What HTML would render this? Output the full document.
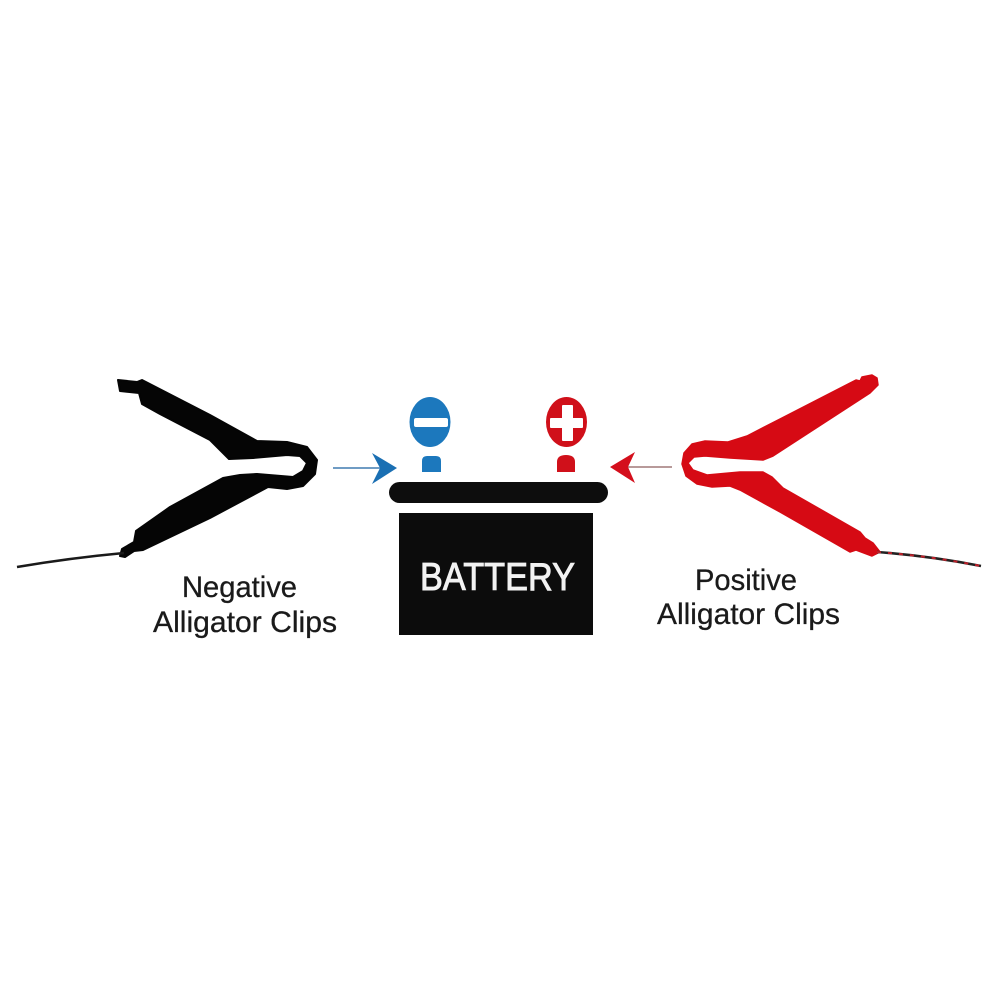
<!DOCTYPE html>
<html>
<head>
<meta charset="utf-8">
<style>
html,body{margin:0;padding:0;background:#ffffff;}
svg{display:block;}
</style>
</head>
<body>
<svg width="1000" height="1000" viewBox="0 0 1000 1000" xmlns="http://www.w3.org/2000/svg">
  <rect x="0" y="0" width="1000" height="1000" fill="#ffffff"/>

  <!-- Left (negative) black alligator clip -->
  <path d="M 118,380 L 137,382 L 142,380 L 210,415 L 257,441 L 287,442 L 307,447 L 317,460 L 315,474 L 303,486 L 287,489 L 268,487 L 210,518 L 143,550 L 134,551 L 125,557 L 120,556 L 122,549 L 134,542 L 136,531 L 170,507 L 223,478 L 240,475 L 257,474 L 293,477 L 303,471 L 307,463 L 300,456 L 287,455 L 253,458 L 229,459 L 210,440 L 160,414 L 142,404 L 139,393 L 120,391 Z" fill="#050505" stroke="#050505" stroke-width="2" stroke-linejoin="round"/>
  <path d="M 124,553 Q 70,558 17,567" stroke="#1a1a1a" stroke-width="2.6" fill="none"/>

  <!-- Right (positive) red alligator clip -->
  <path d="M 878,385 L 877,378 L 872,375 L 862,377 L 860,381 L 856,380 L 780,419 L 747,436 L 728,442 L 705,441 L 692,444 L 684,453 L 682,464 L 686,476 L 697,484 L 712,487 L 730,486 L 740,490 L 780,512 L 850,552 L 856,550 L 872,556 L 880,552 L 873,543 L 865,538 L 860,532 L 783,488 L 772,477 L 763,472 L 740,472 L 707,475 L 693,470 L 688,463 L 694,457 L 705,456 L 730,458 L 763,460 L 773,456 L 870,393 Z" fill="#d60a14" stroke="#d60a14" stroke-width="1.5" stroke-linejoin="round"/>
  <path d="M 877,552 Q 930,556 981,566" stroke="#222222" stroke-width="2.6" fill="none"/>
  <path d="M 877,552 Q 930,556 981,566" stroke="#c0202a" stroke-width="2" fill="none" stroke-dasharray="4 7"/>

  <!-- Arrows -->
  <line x1="333" y1="468" x2="382" y2="468" stroke="#6f9cc4" stroke-width="2"/>
  <path d="M 397,468 L 372,453 L 380,468 L 372,484 Z" fill="#1a6fb3"/>
  <line x1="627" y1="467" x2="672" y2="467" stroke="#b89a9a" stroke-width="2"/>
  <path d="M 610,467 L 635,452 L 628,467 L 635,483 Z" fill="#d40f1c"/>

  <!-- Negative terminal -->
  <ellipse cx="430" cy="422" rx="20.5" ry="25" fill="#1c78bd"/>
  <rect x="414" y="418" width="34" height="9" rx="2" fill="#ffffff"/>
  <path d="M 422,472 L 422,461 Q 422,456 427,456 L 436,456 Q 441,456 441,461 L 441,472 Z" fill="#1c78bd"/>

  <!-- Positive terminal -->
  <ellipse cx="566.5" cy="422" rx="20.5" ry="25" fill="#d0101a"/>
  <rect x="550" y="418" width="33" height="10" rx="1" fill="#ffffff"/>
  <rect x="562" y="405" width="11" height="36" rx="1" fill="#ffffff"/>
  <path d="M 557,472 L 557,462 Q 557,455 566,455 Q 575,455 575,462 L 575,472 Z" fill="#d0101a"/>

  <!-- Battery -->
  <rect x="389" y="482" width="219" height="21" rx="10.5" fill="#0d0d0d"/>
  <rect x="399" y="513" width="194" height="122" fill="#0c0c0c"/>
  <text x="420" y="590" font-family="Liberation Sans, Arial, sans-serif" font-size="38.5" fill="#f2f2f2" stroke="#f2f2f2" stroke-width="0.9" textLength="155" lengthAdjust="spacingAndGlyphs">BATTERY</text>

  <!-- Labels -->
  <text x="182" y="597" font-family="Liberation Sans, Arial, sans-serif" font-size="29.5" fill="#1a1a1a" stroke="#1a1a1a" stroke-width="0.3" textLength="115" lengthAdjust="spacingAndGlyphs">Negative</text>
  <text x="153" y="632" font-family="Liberation Sans, Arial, sans-serif" font-size="29.5" fill="#1a1a1a" stroke="#1a1a1a" stroke-width="0.3" textLength="184" lengthAdjust="spacingAndGlyphs">Alligator Clips</text>
  <text x="695" y="590" font-family="Liberation Sans, Arial, sans-serif" font-size="29.5" fill="#1a1a1a" stroke="#1a1a1a" stroke-width="0.3" textLength="102" lengthAdjust="spacingAndGlyphs">Positive</text>
  <text x="657" y="624" font-family="Liberation Sans, Arial, sans-serif" font-size="29.5" fill="#1a1a1a" stroke="#1a1a1a" stroke-width="0.3" textLength="183" lengthAdjust="spacingAndGlyphs">Alligator Clips</text>
</svg>
</body>
</html>
